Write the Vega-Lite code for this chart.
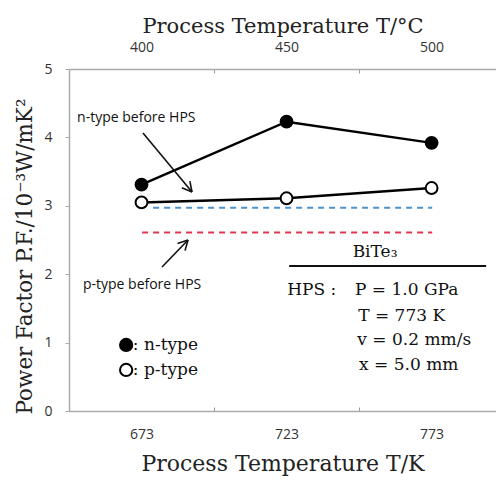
{
  "$schema": "https://vega.github.io/schema/vega-lite/v6.json",
  "width": 427,
  "height": 342,
  "autosize": {"type": "none"},
  "padding": {"left": 69, "top": 69, "right": 0, "bottom": 69},
  "background": "white",
  "config": {"view": {"stroke": null}},
  "datasets": {
    "pts": [
      {"T": 673, "PF": 3.31, "type": "n"},
      {"T": 723, "PF": 4.23, "type": "n"},
      {"T": 773, "PF": 3.92, "type": "n"},
      {"T": 673, "PF": 3.05, "type": "p"},
      {"T": 723, "PF": 3.11, "type": "p"},
      {"T": 773, "PF": 3.26, "type": "p"}
    ],
    "legendpts": [
      {"T": 667.7, "PF": 0.965, "type": "n"},
      {"T": 667.7, "PF": 0.6, "type": "p"}
    ],
    "refs": [
      {"T": 677, "T2": 773.2, "PF": 2.97, "type": "n before HPS"},
      {"T": 673.2, "T2": 773.2, "PF": 2.61, "type": "p before HPS"}
    ],
    "arrows": [
      {"T": 673.5, "PF": 4.064, "T2": 690.41, "PF2": 3.202},
      {"T": 690.41, "PF": 3.202, "T2": 689.66, "PF2": 3.36},
      {"T": 690.41, "PF": 3.202, "T2": 686.9, "PF2": 3.263},
      {"T": 680.07, "PF": 2.105, "T2": 689.03, "PF2": 2.5},
      {"T": 689.03, "PF": 2.5, "T2": 685.41, "PF2": 2.45},
      {"T": 689.03, "PF": 2.5, "T2": 688.0, "PF2": 2.345}
    ],
    "sep": [
      {"T": 723.9, "PF": 2.12, "T2": 791.8}
    ],
    "sanstext": [
      {"T": 650.8, "PF": 4.28, "label": "n-type before HPS"},
      {"T": 652.8, "PF": 1.84, "label": "p-type  before HPS"}
    ],
    "seriftext": [
      {"T": 723.2, "PF": 1.77, "label": "HPS :"},
      {"T": 746.6, "PF": 1.77, "label": "P = 1.0 GPa"},
      {"T": 747.7, "PF": 1.39, "label": "T = 773 K"},
      {"T": 747.4, "PF": 1.04, "label": "v = 0.2 mm/s"},
      {"T": 748.0, "PF": 0.67, "label": "x = 5.0 mm"},
      {"T": 670.0, "PF": 0.965, "label": ": n-type"},
      {"T": 670.0, "PF": 0.6, "label": ": p-type"}
    ],
    "title": [
      {"T": 753.5, "PF": 2.32, "label": "BiTe₃"}
    ]
  },
  "resolve": {"axis": {"x": "independent", "y": "independent"}},
  "layer": [
    {
      "data": {"name": "pts"},
      "mark": {"type": "line", "color": "black", "strokeWidth": 2.5},
      "encoding": {
        "x": {
          "field": "T", "type": "quantitative",
          "scale": {"domain": [648, 795.2], "nice": false, "zero": false},
          "axis": {
            "orient": "bottom",
            "title": "Process Temperature T/K",
            "values": [673, 698, 723, 748, 773],
            "labelExpr": "datum.value == 698 || datum.value == 748 ? '' : datum.label",
            "tickOpacity": {"condition": {"test": "datum.value == 698 || datum.value == 748", "value": 1}, "value": 0},
            "tickSize": -4,
            "tickColor": "#999",
            "domainColor": "#aaa",
            "domainWidth": 1.5,
            "grid": false,
            "labelFont": "Open Sans",
            "labelFontSize": 14,
            "labelColor": "#333",
            "labelPadding": 20,
            "titleFont": "DejaVu Serif",
            "titleFontSize": 22,
            "titleFontWeight": "normal",
            "titleColor": "#222",
            "titlePadding": 12
          }
        },
        "y": {
          "field": "PF", "type": "quantitative",
          "scale": {"domain": [0, 5], "nice": false},
          "axis": {
            "orient": "left",
            "title": "Power Factor P.F./10⁻³W/mK²",
            "values": [0, 1, 2, 3, 4, 5],
            "tickSize": 4,
            "tickColor": "#aaa",
            "domainColor": "#aaa",
            "domainWidth": 1.5,
            "grid": false,
            "labelFont": "Open Sans",
            "labelFontSize": 14,
            "labelColor": "#333",
            "labelPadding": 13,
            "titleFont": "DejaVu Serif",
            "titleFontSize": 21.5,
            "titleFontWeight": "normal",
            "titleColor": "#222",
            "titlePadding": 7,
            "titleY": 187
          }
        },
        "detail": {"field": "type"}
      }
    },
    {
      "data": {"name": "pts"},
      "mark": {"type": "point", "filled": true, "stroke": "black", "strokeWidth": 2, "size": 140, "opacity": 1},
      "encoding": {
        "x": {
          "field": "T", "type": "quantitative",
          "axis": {
            "orient": "top",
            "title": "Process Temperature T/°C",
            "values": [673, 698, 723, 748, 773],
            "labelExpr": "datum.value == 698 || datum.value == 748 ? '' : format(datum.value - 273, 'd')",
            "tickOpacity": {"condition": {"test": "datum.value == 698 || datum.value == 748", "value": 1}, "value": 0},
            "tickSize": -4,
            "tickColor": "#999",
            "domainColor": "#aaa",
            "domainWidth": 1.5,
            "grid": false,
            "labelFont": "Open Sans",
            "labelFontSize": 14,
            "labelColor": "#333",
            "labelPadding": 19,
            "titleFont": "DejaVu Serif",
            "titleFontSize": 21,
            "titleFontWeight": "normal",
            "titleColor": "#222",
            "titlePadding": 4
          }
        },
        "y": {"field": "PF", "type": "quantitative", "axis": null},
        "fill": {"field": "type", "type": "nominal", "scale": {"domain": ["n", "p"], "range": ["black", "white"]}, "legend": null}
      }
    },
    {
      "data": {"name": "legendpts"},
      "mark": {"type": "point", "filled": true, "stroke": "black", "strokeWidth": 2, "size": 150, "opacity": 1},
      "encoding": {
        "x": {"field": "T", "type": "quantitative", "axis": null},
        "y": {"field": "PF", "type": "quantitative", "axis": null},
        "fill": {"field": "type", "type": "nominal", "legend": null}
      }
    },
    {
      "data": {"name": "refs"},
      "mark": {"type": "rule", "strokeWidth": 2, "strokeDash": [6, 5]},
      "encoding": {
        "x": {"field": "T", "type": "quantitative", "axis": null},
        "x2": {"field": "T2"},
        "y": {"field": "PF", "type": "quantitative", "axis": null},
        "stroke": {"field": "type", "type": "nominal", "scale": {"domain": ["n before HPS", "p before HPS"], "range": ["#4a93cf", "#e2354f"]}, "legend": null}
      }
    },
    {
      "data": {"name": "arrows"},
      "mark": {"type": "rule", "color": "#111", "strokeWidth": 1.6},
      "encoding": {
        "x": {"field": "T", "type": "quantitative", "axis": null},
        "x2": {"field": "T2"},
        "y": {"field": "PF", "type": "quantitative", "axis": null},
        "y2": {"field": "PF2"}
      }
    },
    {
      "data": {"name": "sep"},
      "mark": {"type": "rule", "color": "#111", "strokeWidth": 2},
      "encoding": {
        "x": {"field": "T", "type": "quantitative", "axis": null},
        "x2": {"field": "T2"},
        "y": {"field": "PF", "type": "quantitative", "axis": null}
      }
    },
    {
      "data": {"name": "sanstext"},
      "mark": {"type": "text", "align": "left", "baseline": "middle", "font": "Open Sans", "fontSize": 14, "color": "#111"},
      "encoding": {
        "x": {"field": "T", "type": "quantitative", "axis": null},
        "y": {"field": "PF", "type": "quantitative", "axis": null},
        "text": {"field": "label"}
      }
    },
    {
      "data": {"name": "seriftext"},
      "mark": {"type": "text", "align": "left", "baseline": "middle", "font": "DejaVu Serif", "fontSize": 17, "color": "#111"},
      "encoding": {
        "x": {"field": "T", "type": "quantitative", "axis": null},
        "y": {"field": "PF", "type": "quantitative", "axis": null},
        "text": {"field": "label"}
      }
    },
    {
      "data": {"name": "title"},
      "mark": {"type": "text", "align": "center", "baseline": "middle", "font": "DejaVu Serif", "fontSize": 17, "color": "#111"},
      "encoding": {
        "x": {"field": "T", "type": "quantitative", "axis": null},
        "y": {"field": "PF", "type": "quantitative", "axis": null},
        "text": {"field": "label"}
      }
    }
  ]
}
